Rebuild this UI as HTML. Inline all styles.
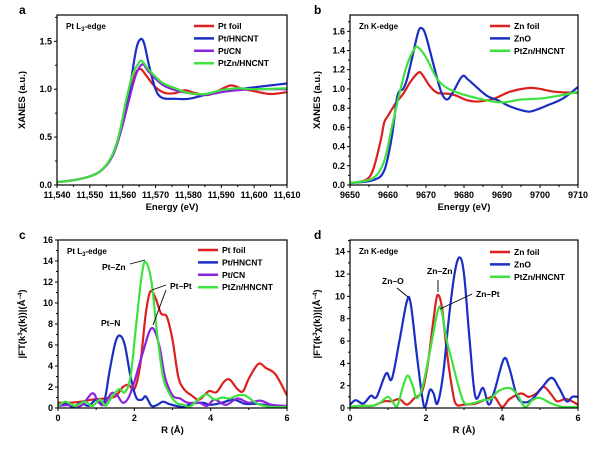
<!DOCTYPE html>
<html><head><meta charset="utf-8"><style>
html,body{margin:0;padding:0;background:#fff;}
svg{display:block;font-family:"Liberation Sans",Arial,sans-serif;font-weight:bold;}
</style></head><body>
<svg id="fig" width="600" height="449" viewBox="0 0 600 449" xmlns="http://www.w3.org/2000/svg"></svg>
<script>
// Panel a data
const aFoilX=[11540,11545,11550,11553,11556,11558,11560,11562,11564,11565.5,11567,11570,11573,11576,11579,11582,11586,11590,11593,11596,11600,11605,11610];
const aFoilY=[0.03,0.05,0.09,0.14,0.25,0.4,0.65,0.95,1.17,1.21,1.15,1.02,0.96,0.96,0.99,0.96,0.94,1.0,1.04,1.01,0.98,0.95,0.97];
const aHnX=[11540,11545,11550,11553,11556,11558,11560,11562,11564,11565.3,11566.5,11568,11570,11572,11576,11580,11585,11590,11595,11600,11605,11610];
const aHnY=[0.03,0.05,0.09,0.14,0.25,0.4,0.65,0.98,1.4,1.52,1.48,1.25,1.0,0.91,0.9,0.9,0.94,0.98,1.0,1.02,1.04,1.06];
const aCnX=[11540,11545,11550,11553,11556,11558,11560,11562,11564,11566,11568,11572,11576,11580,11585,11590,11595,11600,11610];
const aCnY=[0.03,0.05,0.09,0.14,0.25,0.4,0.63,0.9,1.15,1.26,1.18,1.05,0.99,0.96,0.94,0.97,0.99,1.0,1.0];
const aZnX=[11540,11545,11550,11553,11556,11558,11559.5,11561,11563,11565,11566,11568,11572,11576,11580,11585,11590,11595,11600,11610];
const aZnY=[0.03,0.05,0.09,0.14,0.26,0.42,0.62,0.88,1.15,1.28,1.29,1.2,1.07,1.01,0.96,0.95,0.99,1.01,1.0,1.01];
// Panel b data
const bFoilX=[9650,9654,9656,9658,9659,9660,9662,9664,9666,9668,9669,9671,9673,9676,9678,9681,9684,9688,9692,9697,9700,9704,9710];
const bFoilY=[0.02,0.05,0.15,0.45,0.65,0.72,0.85,0.95,1.08,1.17,1.15,1.03,0.96,0.95,0.93,0.88,0.87,0.9,0.97,1.01,1.0,0.97,0.96];
const bZnoX=[9650,9656,9659,9661,9662.5,9664,9665,9666.5,9668,9669,9670,9672,9674,9675.5,9677,9679.5,9681,9683,9686,9689,9692,9696,9698,9702,9706,9710];
const bZnoY=[0.02,0.05,0.15,0.5,0.93,1.0,1.1,1.35,1.6,1.63,1.55,1.25,0.97,0.89,0.96,1.13,1.1,1.03,0.93,0.88,0.82,0.77,0.77,0.83,0.9,1.02];
const bPzX=[9650,9656,9659,9661,9663,9665,9667,9668,9670,9673,9676,9680,9685,9690,9695,9700,9705,9710];
const bPzY=[0.02,0.07,0.25,0.6,0.95,1.25,1.42,1.43,1.33,1.1,1.0,0.94,0.89,0.86,0.89,0.9,0.93,0.97];
// Panel c data
const cFoilX=[0,0.3,0.6,0.9,1.2,1.5,1.7,1.85,2.0,2.15,2.3,2.42,2.55,2.7,2.85,3.0,3.15,3.3,3.5,3.7,3.95,4.15,4.35,4.5,4.7,4.85,5.0,5.25,5.45,5.7,6];
const cFoilY=[0.5,0.5,0.6,0.8,0.9,1.1,2.0,2.2,1.8,4,9,11.1,10.5,9.0,8.7,6.5,3,1.8,1.2,0.8,1.6,1.5,2.5,2.7,1.8,1.6,2.8,4.2,3.8,3.2,1.2];
const cHnX=[0,0.2,0.4,0.6,0.8,1.0,1.2,1.35,1.5,1.62,1.75,1.9,2.05,2.2,2.3,2.45,2.6,2.75,2.9,3.1,3.3,3.5,3.8,4.0,4.3,4.6,4.9,5.2,5.6,6];
const cHnY=[0.3,0.4,0.1,0.5,0.2,0.8,0.5,3.5,6.2,6.9,6,3,1,0.8,1.1,0.2,0.3,0.6,0.4,0.2,0.1,0.4,0.5,0.3,0.5,0.8,0.4,0.4,0.2,0.1];
const cCnX=[0,0.3,0.6,0.9,1.05,1.2,1.4,1.55,1.7,1.85,2.0,2.2,2.45,2.65,2.8,3.0,3.2,3.4,3.7,3.9,4.1,4.4,4.7,5.0,5.3,5.6,6];
const cCnY=[0.2,0.3,0.2,1.4,0.6,0.3,1.4,1.2,0.5,1.0,2.5,5,7.6,6,3,1.2,0.9,0.5,0.5,0.2,0.8,0.3,0.9,0.5,0.7,0.3,0.2];
const cPzX=[0,0.2,0.45,0.7,0.9,1.1,1.25,1.4,1.6,1.75,1.9,2.05,2.2,2.3,2.45,2.6,2.75,2.9,3.1,3.3,3.45,3.7,3.9,4.1,4.3,4.5,4.7,4.9,5.1,5.3,5.6,6];
const cPzY=[0.2,0.6,0.2,0.6,0.2,0.8,0.2,1.0,1.8,1.5,3,8,12.8,13.9,12,7,3,1.5,0.5,0.3,0.1,0.9,1.3,0.8,1.0,0.9,1.2,1.2,0.7,0.3,0.1,0.1];
// Panel d data
const dFoilX=[0,0.3,0.6,0.9,1.1,1.3,1.5,1.7,1.9,2.05,2.2,2.3,2.42,2.55,2.7,2.8,3.0,3.3,3.6,3.8,4.0,4.2,4.5,4.7,4.9,5.1,5.3,5.45,5.7,6];
const dFoilY=[0.1,0.2,0.2,0.6,0.6,0.8,0.3,0.9,1.5,4,8,10.1,9,5,1.5,0.3,0.3,0.4,0.8,1.0,0.1,0.8,1.3,1.0,1.3,1.9,1.2,0.6,0.8,0.3];
const dZnoX=[0,0.15,0.35,0.55,0.7,0.95,1.1,1.3,1.5,1.6,1.75,1.9,1.98,2.1,2.2,2.3,2.45,2.6,2.75,2.88,3.0,3.15,3.3,3.5,3.65,3.8,4.05,4.2,4.4,4.6,4.8,5.0,5.3,5.5,5.7,5.85,6];
const dZnoY=[0.3,0.7,0.4,1.1,1.0,3.1,2.6,6,9.6,9.3,5,1,0.1,1.6,1.3,0.4,3,8,12,13.5,12,6,1,1.8,0.3,1.5,4.4,3.5,1.0,0.5,0.8,1.6,2.7,1.8,0.6,1.0,1.0];
const dPzX=[0,0.3,0.6,0.8,1.0,1.15,1.25,1.4,1.52,1.65,1.75,1.9,2.1,2.3,2.4,2.55,2.7,2.85,3.0,3.2,3.5,3.7,3.9,4.2,4.4,4.6,4.8,5.0,5.3,5.6,6];
const dPzY=[0.1,0.2,0.2,0.5,1.0,0.4,0.2,2.0,2.9,2.0,0.9,1.8,5,8.6,8.8,6,4,2,0.5,0.4,0.7,0.8,1.5,1.8,1.2,0.1,0.7,0.9,0.4,0.1,0.1];
// tick labels
const aXTicks=[11540,11550,11560,11570,11580,11590,11600,11610];
const aYTicks=[0,0.5,1.0,1.5];
const bXTicks=[9650,9660,9670,9680,9690,9700,9710];
const bYTicks=[0,0.2,0.4,0.6,0.8,1.0,1.2,1.4,1.6];
const cXTicks=[0,2,4,6];
const cYTicks=[0,2,4,6,8,10,12,14,16];
const dXTicks=[0,2,4,6];
const dYTicks=[0,2,4,6,8,10,12,14];

const RED="#dc1f1f",BLUE="#1a2ec4",PURP="#8b22dd",GRN="#3ee23e";
const NS="http://www.w3.org/2000/svg";
const svg=document.getElementById('fig');
function mk(tag,attrs,parent){const e=document.createElementNS(NS,tag);for(const k in attrs)e.setAttribute(k,attrs[k]);(parent||svg).appendChild(e);return e;}
function smooth(pts){let d="M"+pts[0][0].toFixed(2)+","+pts[0][1].toFixed(2);
 for(let i=0;i<pts.length-1;i++){const p0=pts[Math.max(0,i-1)],p1=pts[i],p2=pts[i+1],p3=pts[Math.min(pts.length-1,i+2)];
 const c1=[p1[0]+(p2[0]-p0[0])/6,p1[1]+(p2[1]-p0[1])/6],c2=[p2[0]-(p3[0]-p1[0])/6,p2[1]-(p3[1]-p1[1])/6];
 d+="C"+c1[0].toFixed(2)+","+c1[1].toFixed(2)+" "+c2[0].toFixed(2)+","+c2[1].toFixed(2)+" "+p2[0].toFixed(2)+","+p2[1].toFixed(2);}return d;}

function panel(o){
 const g=mk('g',{});
 
 
 const sx=v=>o.x0+(v-o.xmin)/(o.xmax-o.xmin)*(o.x1-o.x0);
 const sy=v=>o.y0-(v-o.ymin)/(o.ymax-o.ymin)*(o.y0-o.y1);
 const cp=mk('clipPath',{id:'clip'+o.id},g);mk('rect',{x:o.x0,y:o.y1,width:o.x1-o.x0,height:o.y0-o.y1},cp);
 const lg=mk('g',{'clip-path':'url(#clip'+o.id+')'},g);
 o.series.forEach(s=>{const p=mk('path',{d:smooth(s.x.map((v,i)=>[sx(v),sy(s.y[i])])),fill:'none',stroke:s.c,'stroke-width':2.2,'stroke-linejoin':'round'},lg);
  
  });
 const fr=mk('rect',{x:o.x0,y:o.y1,width:o.x1-o.x0,height:o.y0-o.y1,fill:'none',stroke:'#000','stroke-width':1.2},g);
 
 
 o.xt.forEach(v=>{const x=sx(v);mk('line',{x1:x,x2:x,y1:o.y0,y2:o.y0+3,stroke:'#000','stroke-width':1},g);
  const t=mk('text',{x:x,y:o.y0+13,'text-anchor':'middle','font-size':9},g);t.textContent=o.xf(v);
  
  });
 for(let i=0;i<o.yt.length;i++){const v=o.yt[i],y=sy(v);mk('line',{x1:o.x0-3,x2:o.x0,y1:y,y2:y,stroke:'#000','stroke-width':1},g);
  const t=mk('text',{x:o.x0-5,y:y+3,'text-anchor':'end','font-size':9},g);t.textContent=o.yf(v);
  
  
  const mv=v+(o.yt[1]-o.yt[0])/2; if(mv<o.ymax){const ym=sy(mv);mk('line',{x1:o.x0-2,x2:o.x0,y1:ym,y2:ym,stroke:'#000','stroke-width':1},g);}}
 for(let i=0;i<o.xt.length-1;i++){const xm=sx((o.xt[i]+o.xt[i+1])/2);mk('line',{x1:xm,x2:xm,y1:o.y0,y2:o.y0+2,stroke:'#000','stroke-width':1},g);}
 const xl=mk('text',{x:(o.x0+o.x1)/2,y:o.y0+25,'text-anchor':'middle','font-size':9.5},g);xl.textContent=o.xl;
 
 const yl=mk('text',{x:0,y:0,'text-anchor':'middle','font-size':9.5,transform:'translate('+o.ylx+','+(o.y0+o.y1)/2+') rotate(-90)'},g);yl.innerHTML=o.yl;
 
 const lt=mk('text',{x:o.lx-36,y:o.y1-1,'font-size':12},g);lt.textContent=o.id;
 
 const ed=mk('text',{x:o.x0+9,y:o.y1+14,'font-size':8},g);ed.innerHTML=o.edge;
 
 o.series.forEach((s,i)=>{const y=o.legY+i*12.4;
  const le=mk('g',{},g);
  mk('line',{x1:o.legX,x2:o.legX+20,y1:y,y2:y,stroke:s.c,'stroke-width':2.5},le);
  const t=mk('text',{x:o.legX+24,y:y+3,'font-size':8.5},le);t.textContent=s.n;});
 (o.ann||[]).forEach(a=>{const t=mk('text',{x:a.x,y:a.y,'font-size':8.5},g);t.textContent=a.t;
  
  a.l.forEach(l=>mk('line',{x1:l[0],y1:l[1],x2:l[2],y2:l[3],stroke:'#000','stroke-width':0.9},g));});
}
const fmtE=v=>String(v).replace(/(\d{2})(\d{3})$/,'$1,$2');
const yT="|FT(k<tspan dy='-3' font-size='6'>3</tspan><tspan dy='3'>χ(k))|(Å</tspan><tspan dy='-3' font-size='6'>−4</tspan><tspan dy='3'>)</tspan>";
panel({id:'a',x0:57,x1:287,y0:185,y1:15,xmin:11540,xmax:11610,ymin:0,ymax:1.775,lx:55,xt:aXTicks,yt:aYTicks,xf:fmtE,yf:v=>v.toFixed(1),
 xl:'Energy (eV)',yl:'XANES (a.u.)',ylx:25,edge:"Pt L<tspan dy='2' font-size='6'>3</tspan><tspan dy='-2'>-edge</tspan>",legX:194,legY:26,
 series:[{n:'Pt foil',c:RED,x:aFoilX,y:aFoilY},{n:'Pt/HNCNT',c:BLUE,x:aHnX,y:aHnY},{n:'Pt/CN',c:PURP,x:aCnX,y:aCnY},{n:'PtZn/HNCNT',c:GRN,x:aZnX,y:aZnY}]});
panel({id:'b',x0:350,x1:578,y0:185,y1:15,xmin:9650,xmax:9710,ymin:0,ymax:1.77,lx:350,xt:bXTicks,yt:bYTicks,xf:v=>v,yf:v=>v.toFixed(1),
 xl:'Energy (eV)',yl:'XANES (a.u.)',ylx:320,edge:'Zn K-edge',legX:490,legY:26,
 series:[{n:'Zn foil',c:RED,x:bFoilX,y:bFoilY},{n:'ZnO',c:BLUE,x:bZnoX,y:bZnoY},{n:'PtZn/HNCNT',c:GRN,x:bPzX,y:bPzY}]});
panel({id:'c',x0:58,x1:287,y0:408,y1:240,xmin:0,xmax:6,ymin:0,ymax:16,lx:55,xt:cXTicks,yt:cYTicks,xf:v=>v,yf:v=>v,
 xl:'R (Å)',yl:yT,ylx:25,edge:"Pt L<tspan dy='2' font-size='6'>3</tspan><tspan dy='-2'>-edge</tspan>",legX:198,legY:250,
 series:[{n:'Pt foil',c:RED,x:cFoilX,y:cFoilY},{n:'Pt/HNCNT',c:BLUE,x:cHnX,y:cHnY},{n:'Pt/CN',c:PURP,x:cCnX,y:cCnY},{n:'PtZn/HNCNT',c:GRN,x:cPzX,y:cPzY}],
 ann:[{t:'Pt–Zn',x:102,y:270,l:[[130,264,145,260]]},{t:'Pt–Pt',x:170,y:289,l:[[152,290,166,285],[166,290,153,325]]},{t:'Pt–N',x:101,y:326,l:[]}]});
panel({id:'d',x0:350,x1:578,y0:408,y1:240,xmin:0,xmax:6,ymin:0,ymax:15.05,lx:350,xt:dXTicks,yt:dYTicks,xf:v=>v,yf:v=>v,
 xl:'R (Å)',yl:yT,ylx:320,edge:'Zn K-edge',legX:490,legY:252,
 series:[{n:'Zn foil',c:RED,x:dFoilX,y:dFoilY},{n:'ZnO',c:BLUE,x:dZnoX,y:dZnoY},{n:'PtZn/HNCNT',c:GRN,x:dPzX,y:dPzY}],
 ann:[{t:'Zn–O',x:382,y:284,l:[[397,288,408,297]]},{t:'Zn–Zn',x:427,y:274,l:[[438,280,438,292]]},{t:'Zn–Pt',x:476,y:297,l:[[472,294,440,309]]}]});
</script>
</body></html>
